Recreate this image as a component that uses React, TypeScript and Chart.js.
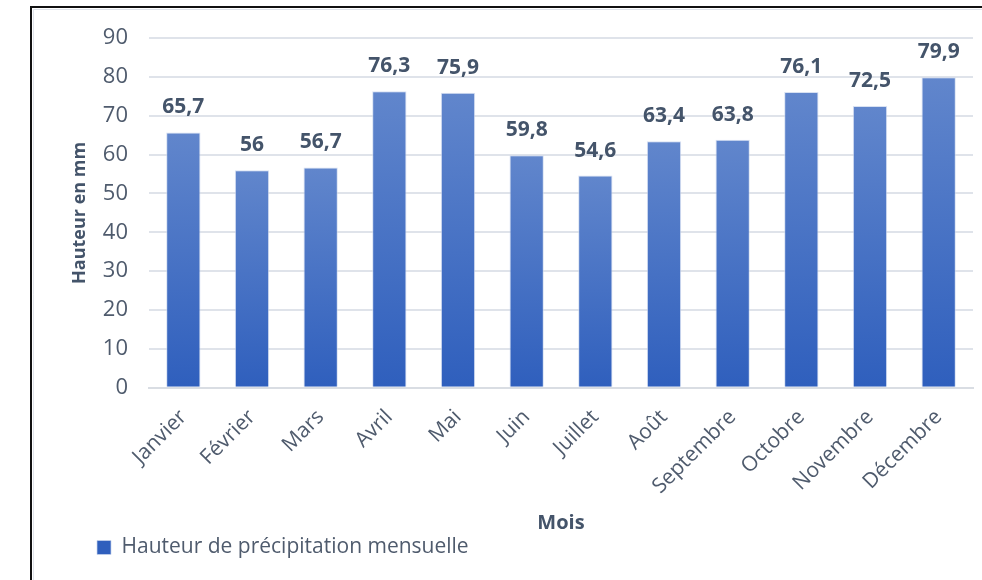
import React, { useEffect, useRef } from "react";
import { Chart, registerables } from "chart.js";

Chart.register(...registerables);

const months = [
  "Janvier", "Février", "Mars", "Avril", "Mai", "Juin",
  "Juillet", "Août", "Septembre", "Octobre", "Novembre", "Décembre",
];
const rainfall = [65.7, 56, 56.7, 76.3, 75.9, 59.8, 54.6, 63.4, 63.8, 76.1, 72.5, 79.9];
const seriesName = "Hauteur de précipitation mensuelle";
const yTitle = "Hauteur en mm";
const xTitle = "Mois";

const FONT = "'Open Sans', 'Noto Sans', sans-serif";
const TEXT = "#4f5b6d";
const LABEL = "#44546a";

const fmt = (v: number) => String(v).replace(".", ",");

// White page with the dark frame along the top and left edges
const framePlugin = {
  id: "frame",
  beforeDraw(chart: any) {
    const { ctx, width, height } = chart;
    ctx.save();
    ctx.fillStyle = "#ffffff";
    ctx.fillRect(0, 0, width, height);
    ctx.strokeStyle = "#dfe3ea";
    ctx.lineWidth = 1;
    ctx.beginPath();
    ctx.moveTo(33.5, height);
    ctx.lineTo(33.5, 9.5);
    ctx.lineTo(width, 9.5);
    ctx.stroke();
    ctx.strokeStyle = "#111111";
    ctx.lineWidth = 2;
    ctx.beginPath();
    ctx.moveTo(31, height);
    ctx.lineTo(31, 7);
    ctx.lineTo(width, 7);
    ctx.stroke();
    ctx.restore();
  },
};

// Value labels above each bar
const valueLabels = {
  id: "valueLabels",
  afterDatasetsDraw(chart: any) {
    const { ctx } = chart;
    const meta = chart.getDatasetMeta(0);
    ctx.save();
    ctx.font = `bold 21px ${FONT}`;
    ctx.fillStyle = LABEL;
    ctx.textAlign = "center";
    ctx.textBaseline = "alphabetic";
    meta.data.forEach((bar: any, i: number) => {
      ctx.fillText(fmt(rainfall[i]), bar.x, bar.y - 19);
    });
    ctx.restore();
  },
};

// Shift the legend to sit under the y-axis labels
const legendShift = {
  id: "legendShift",
  afterLayout(chart: any) {
    const lg = chart.legend;
    if (lg) {
      lg.left += 30;
      lg.right += 30;
    }
  },
};

function barFill(context: any) {
  const { chart, dataIndex } = context;
  const y = chart.scales?.y;
  if (!y || !chart.chartArea) return "#4a72c4";
  const top = y.getPixelForValue(rainfall[dataIndex]);
  const bottom = y.getPixelForValue(0);
  const g = chart.ctx.createLinearGradient(0, top, 0, bottom);
  g.addColorStop(0, "#6186cc");
  g.addColorStop(1, "#2f5fbd");
  return g;
}

export default function App() {
  const ref = useRef<HTMLCanvasElement | null>(null);

  useEffect(() => {
    if (!ref.current) return;
    const chart = new Chart(ref.current, {
      type: "bar",
      data: {
        labels: months,
        datasets: [
          {
            label: seriesName,
            data: rainfall,
            backgroundColor: barFill,
            borderColor: "rgba(200,212,236,0.7)",
            borderWidth: 1,
            barPercentage: 0.5,
            categoryPercentage: 1,
          },
        ],
      },
      options: {
        responsive: false,
        animation: false,
        layout: { padding: { left: 65, right: 9, top: 38, bottom: 12 } },
        plugins: {
          legend: {
            position: "bottom",
            align: "start",
            labels: {
              boxWidth: 14,
              boxHeight: 14,
              padding: 2,
              color: TEXT,
              font: { family: FONT, size: 21 },
            },
          },
          tooltip: { enabled: false },
        },
        scales: {
          x: {
            grid: { display: false, drawTicks: false },
            border: { display: true, color: "#d9dde3", width: 2 },
            ticks: {
              color: TEXT,
              font: { family: FONT, size: 21 },
              minRotation: 45,
              maxRotation: 45,
              padding: 17,
            },
            title: {
              display: true,
              text: xTitle,
              color: LABEL,
              font: { family: FONT, size: 20, weight: "bold" },
              padding: { top: 4, bottom: 0 },
            },
            afterFit(scale: any) {
              scale.height -= 9;
            },
          },
          y: {
            min: 0,
            max: 90,
            ticks: {
              stepSize: 10,
              color: TEXT,
              font: { family: FONT, size: 22 },
              padding: 21,
            },
            grid: { color: "#dfe3ea", lineWidth: 2, drawTicks: false },
            border: { display: false },
            title: {
              display: true,
              text: yTitle,
              color: LABEL,
              font: { family: FONT, size: 18, weight: "bold" },
              padding: { top: 4, bottom: 2 },
            },
            afterFit(scale: any) {
              scale.width = 84;
            },
          },
        },
      },
      plugins: [framePlugin, valueLabels, legendShift],
    });
    return () => chart.destroy();
  }, []);

  return (
    <div style={{ position: "absolute", left: 0, top: 0, width: 982, height: 580 }}>
      <canvas ref={ref} width={982} height={580} />
    </div>
  );
}
